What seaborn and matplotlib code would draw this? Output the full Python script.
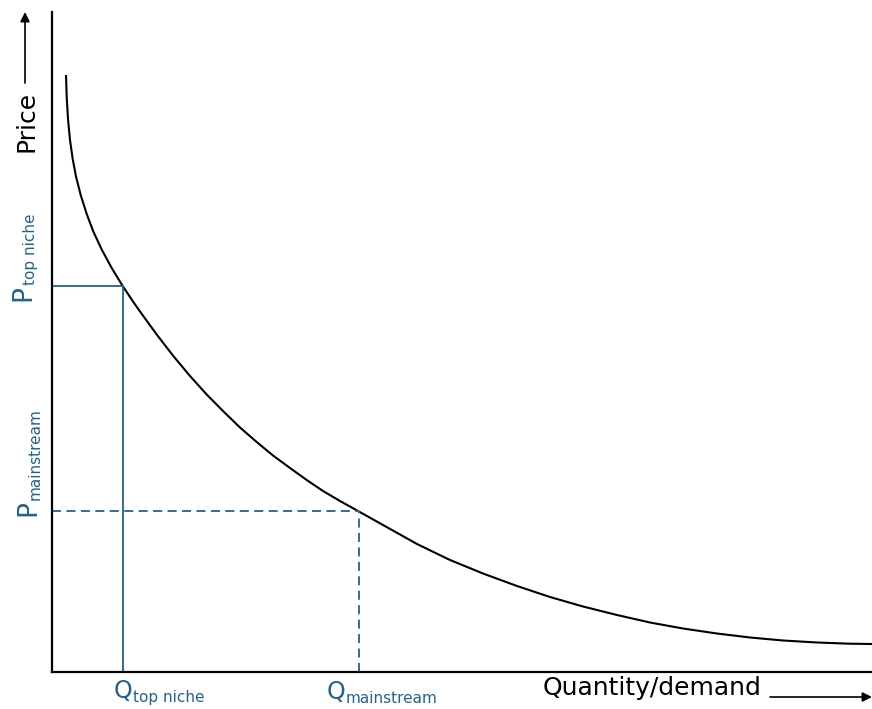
import numpy as np
import seaborn as sns
from matplotlib import pyplot as plt

# demand curve (x = quantity, y = price, arbitrary units)
quantity = [14, 14.7, 16, 18, 20.7, 24, 28.7, 34.7, 41.3, 49.7, 59.7, 70.7, 81, 88,
            104.7, 121.3, 138, 154.7, 171, 188, 204.7, 221, 238, 254.7, 271, 288,
            306, 331, 365, 398, 431, 465, 498, 531, 565, 598, 631, 665, 698, 731,
            765, 798, 820]
price = [597, 575, 553, 532, 513, 495.5, 477, 458, 440.5, 422.5, 404, 386, 370.5, 360.5,
         337.5, 316, 296, 277.5, 261, 244.5, 230, 216.5, 204, 192, 181, 171,
         161, 147, 128, 112, 98.5, 86, 75, 65.5, 57, 49.5, 43.5, 38.5, 34.5, 31.5,
         29.5, 28.3, 28]

q_top_niche, p_top_niche = 71, 386
q_mainstream, p_mainstream = 307, 161

BLUE = "#22628E"
W, H = 872, 709

sns.set_theme(style="white")
plt.rcParams['font.family'] = ['DejaVu Sans']

fig = plt.figure(figsize=(W / 100, H / 100), dpi=100)
ax = fig.add_axes([52 / W, (H - 672) / H, 820 / W, 660 / H])

sns.lineplot(x=quantity, y=price, ax=ax, color="black", linewidth=1.5,
             sort=False, estimator=None, clip_on=False,
             solid_joinstyle="round", solid_capstyle="butt")

# guide lines for top niche (solid) and mainstream (dashed)
ax.plot([0, q_top_niche], [p_top_niche, p_top_niche], color=BLUE, lw=1.3)
ax.plot([q_top_niche, q_top_niche], [0, p_top_niche], color=BLUE, lw=1.3)
ax.plot([0, q_mainstream], [p_mainstream, p_mainstream], color=BLUE, lw=1.3,
        linestyle=(0, (5, 3)))
ax.plot([q_mainstream, q_mainstream], [0, p_mainstream], color=BLUE, lw=1.3,
        linestyle=(0, (5, 3)))

ax.set_xlim(0, 820)
ax.set_ylim(0, 660)
ax.set_xticks([])
ax.set_yticks([])
sns.despine(ax=ax)
for side in ["left", "bottom"]:
    ax.spines[side].set_color("black")
    ax.spines[side].set_linewidth(1.6)


def fpx(x, y):
    # pixel position measured from the top-left of the picture
    return x / W, (H - y) / H


# axis captions with arrows
fig.text(*fpx(33, 152), "Price", rotation=90, rotation_mode="anchor",
         ha="left", va="baseline", fontsize=18, color="black")
fig.text(*fpx(543, 695), "Quantity/demand", ha="left", va="baseline",
         fontsize=18, color="black")
arrow = dict(arrowstyle="-|>", lw=1.2, color="black", mutation_scale=14,
             shrinkA=0, shrinkB=0)
fig.add_artist(plt.Annotation("", xy=fpx(25, 12), xytext=fpx(25, 83),
                              xycoords="figure fraction", arrowprops=arrow))
fig.add_artist(plt.Annotation("", xy=fpx(872, 697), xytext=fpx(770, 697),
                              xycoords="figure fraction", arrowprops=arrow))


def q_label(x, y, sub):
    main = fig.text(*fpx(x, y), "Q", ha="left", va="bottom", fontsize=17, color=BLUE)
    ax.annotate(sub, xy=(1, 0), xycoords=main, xytext=(0, -1.5),
                textcoords="offset points", ha="left", va="bottom",
                fontsize=11, color=BLUE)


def p_label(x, y, sub):
    main = fig.text(*fpx(x, y), "P", rotation=90, rotation_mode="anchor",
                    ha="left", va="bottom", fontsize=19, color=BLUE)
    ax.annotate(sub, xy=(1, 1), xycoords=main, xytext=(1.5, 0),
                textcoords="offset points", rotation=90, rotation_mode="anchor",
                ha="left", va="bottom", fontsize=11, color=BLUE)


q_label(114, 703, "top niche")
q_label(327, 704, "mainstream")
p_label(36, 301, "top niche")
p_label(41, 516, "mainstream")

fig.savefig("out.png", dpi=100)
